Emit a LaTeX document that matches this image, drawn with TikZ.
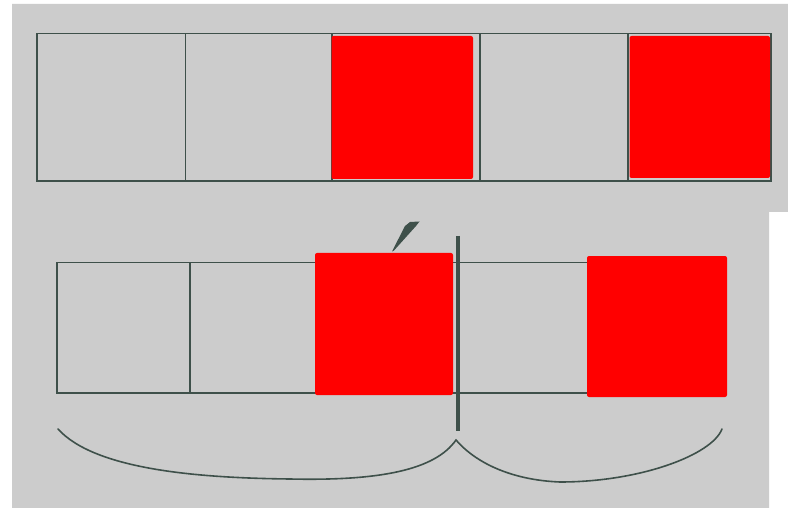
\documentclass[tikz,border=0pt]{standalone}
\begin{document}
\begin{tikzpicture}[x=1pt,y=-1pt,
  ln/.style={draw=lineC,line width=1.4pt},
  redsq/.style={fill=red,rounded corners=2pt},
  brace/.style={draw=lineC,line width=1.6pt,line cap=round}]
\definecolor{lineC}{RGB}{62,80,74}
\definecolor{bgC}{RGB}{204,204,204}
\useasboundingbox (0,0) rectangle (788,508);
\fill[white] (0,0) rectangle (788,508);
\fill[bgC] (12,4) -- (788,4) -- (788,212) -- (769,212) -- (769,508) -- (12,508) -- cycle;
% top row
\draw[ln] (37,33.5) rectangle (771,181);
\draw[ln] (185.5,33.5) -- (185.5,181);
\draw[ln] (332,33.5) -- (332,181);
\draw[ln] (480,33.5) -- (480,181);
\draw[ln] (628,33.5) -- (628,181);
\fill[redsq] (331.5,36) rectangle (473,179);
\fill[redsq] (629.5,36) rectangle (770,178);
% bottom row
\draw[ln] (587,262.5) -- (57,262.5) -- (57,393) -- (587,393);
\draw[ln] (190,262.5) -- (190,393);
\fill[redsq] (315,253) rectangle (453,395);
\fill[redsq] (587,256) rectangle (727,397);
\draw[draw=lineC,line width=4.2pt] (457.7,236) -- (457.7,431);
% tick mark
\fill[lineC] (392,251.5) -- (405,226) -- (410,222) -- (419.5,221.5) -- (416,226) -- (394,250.5) -- cycle;
% brace
\draw[brace] (58,429) .. controls (95,470) and (200,478) .. (290,479)
  .. controls (380,481) and (435,470) .. (456,440)
  .. controls (475,462) and (510,480) .. (560,482)
  .. controls (640,482) and (712,455) .. (722,429);
\end{tikzpicture}
\end{document}
